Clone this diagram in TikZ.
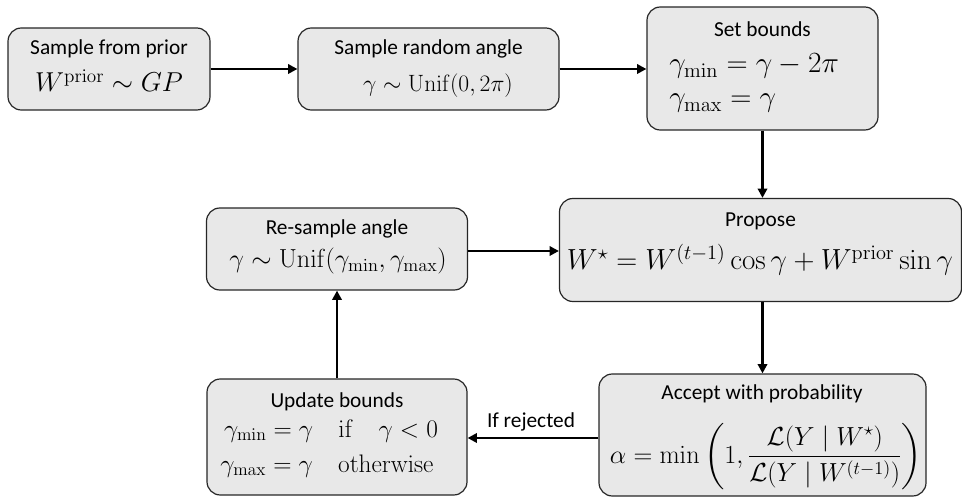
\RequirePackage{fix-cm}
\documentclass[tikz,border=0pt]{standalone}
\usepackage{amsmath}
\usepackage[no-math]{fontspec}
\setmainfont{Carlito}
\usetikzlibrary{arrows.meta}
\tikzset{
  box/.style={draw=black!85, line width=0.9pt, fill=gray!18, rounded corners=10pt, inner sep=0pt},
  lbl/.style={inner sep=0pt, anchor=base, font=\fontsize{16}{19}\selectfont},
  mth/.style={inner sep=0pt, anchor=base},
  flow/.style={line width=2.2pt, -{Triangle[length=7pt,width=7pt]}},
}
\newcommand{\msz}[1]{\fontsize{#1}{#1}\selectfont}
\begin{document}
\begin{tikzpicture}[x=0.75pt, y=-0.75pt]
\useasboundingbox (0,0) rectangle (962,498);
% boxes
\node[box, minimum width=151.5pt, minimum height=61.5pt] (b1) at (109,69) {};
\node[box, minimum width=195.75pt, minimum height=61.5pt] (b2) at (428.5,69) {};
\node[box, minimum width=173.25pt, minimum height=92.25pt] (b3) at (762.5,68.5) {};
\node[box, minimum width=301.5pt, minimum height=77.25pt] (pr) at (760.5,250) {};
\node[box, minimum width=195.75pt, minimum height=61.5pt] (rs) at (337,249) {};
\node[box, minimum width=245.25pt, minimum height=91.5pt] (ac) at (762.5,435) {};
\node[box, minimum width=195pt, minimum height=87pt] (ub) at (337,437) {};
% texts
\node[lbl] (t1) at (109,55) {Sample from prior};
\node[mth] (m1) at (109,92) {\msz{20.5}$W^{\mathrm{prior}} \sim GP$};
\node[lbl] (t2) at (428.5,55) {Sample random angle};
\node[mth] (m2) at (438,92) {\msz{17.7}$\gamma \sim \mathrm{Unif}(0, 2\pi)$};
\node[lbl] (t3) at (762.5,37) {Set bounds};
\node[mth, anchor=base west] (m3a) at (669,73) {\msz{22}$\gamma_{\min} = \gamma - 2\pi$};
\node[mth, anchor=base west] (m3b) at (669,107) {\msz{22}$\gamma_{\max} = \gamma$};
\node[lbl] (t4) at (760.5,227) {Propose};
\node[mth] (m4) at (760,270) {\msz{21.8}$W^{\star} = W^{(t-1)}\cos\gamma + W^{\mathrm{prior}}\sin\gamma$};
\node[lbl] (t5) at (337,235) {Re-sample angle};
\node[mth] (m5) at (338,268) {\msz{19.6}$\gamma \sim \mathrm{Unif}(\gamma_{\min}, \gamma_{\max})$};
\node[lbl] (t6) at (762,399) {Accept with probability};
\node[mth] (m6) at (766,463) {\msz{19.6}$\alpha = \min\left(1, \dfrac{\mathcal{L}(Y \mid W^{\star})}{\mathcal{L}(Y \mid W^{(t-1)})}\right)$};
\node[lbl] (t7) at (337,407) {Update bounds};
\node[mth] (m7a) at (331,437) {\msz{19}$\gamma_{\min} = \gamma \quad \mathrm{if} \quad \gamma < 0$};
\node[mth] (m7b) at (327,472) {\msz{19}$\gamma_{\max} = \gamma \quad \mathrm{otherwise}$};
\node[lbl] (t8) at (531,427) {If rejected};
% connectors
\draw[flow] (b1.east) -- (b2.west);
\draw[flow] (b2.east) -- (b3.west |- b2.east);
\draw[flow] (b3.south) -- (b3.south |- pr.north);
\draw[flow] ([yshift=-1.5pt]rs.east) -- ([yshift=-1.5pt]rs.east -| pr.west);
\draw[flow] (b3.south |- pr.south) -- (ac.north);
\coordinate (aw) at (ac.west |- 0,438);
\draw[flow] (aw) -- (aw -| ub.east);
\draw[flow] (ub.north) -- (rs.south);
\end{tikzpicture}
\end{document}
